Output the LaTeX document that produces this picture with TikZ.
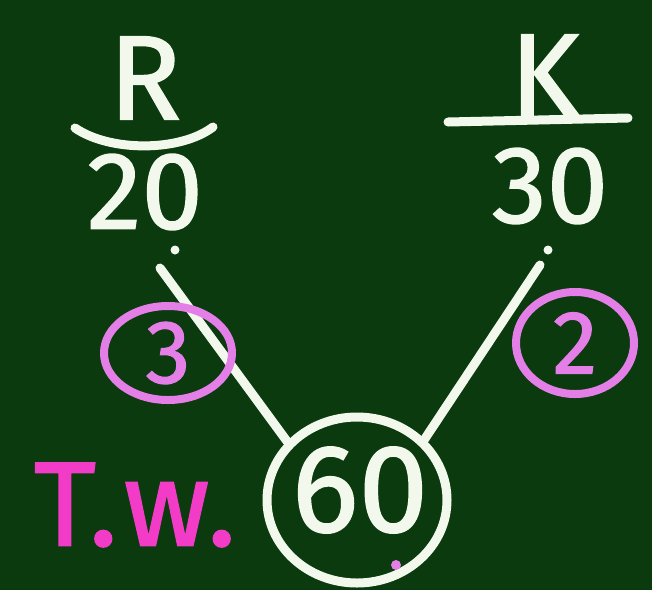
\documentclass[tikz,border=0pt]{standalone}
\usepackage{fontspec}
\setmainfont{Fira Sans}[FakeBold=1.3]
\usetikzlibrary{shapes.geometric}
\definecolor{board}{HTML}{0A3A0E}
\definecolor{chalk}{HTML}{F2F8EC}
\definecolor{lilac}{HTML}{E47FE8}
\definecolor{pinkchalk}{HTML}{F23CC8}
\tikzset{
  chalkline/.style={draw=chalk, line width=9pt, line cap=round},
  bigtext/.style={text=chalk, inner sep=0pt, font=\fontsize{110}{110}\selectfont},
  ring/.style={ellipse, draw=lilac, line width=8pt, inner sep=0pt, text=lilac,
    font=\fontsize{90}{90}\selectfont},
  chalkdot/.style={circle, fill=chalk, inner sep=0pt, minimum size=9pt},
}
\begin{document}
\begin{tikzpicture}[x=1pt,y=-1pt]
  % board
  \fill[board] (0,0) rectangle (652,590);
  \useasboundingbox (0,0) rectangle (652,590);
  % left fraction
  \node[bigtext, font=\fontsize{120}{120}\selectfont] (R) at (145,78) {R};
  \draw[chalkline] (75,128) .. controls (110,152) and (180,152) .. (213,127);
  \node[bigtext] (twenty) at (145,192) {20};
  \node[chalkdot] (dotR) at (175,250) {};
  % right fraction
  \node[bigtext, font=\fontsize{120}{120}\selectfont] (K) at (545,76) {K};
  \draw[chalkline] (448,122) -- (628,118);
  \node[bigtext] (thirty) at (550,186) {30};
  \node[chalkdot] (dotK) at (548,250) {};
  % total
  \node[ellipse, draw=chalk, line width=9pt, minimum width=180pt, minimum height=166pt,
    inner sep=0pt] (total) at (357,500) {};
  \node[bigtext, font=\fontsize{125}{125}\selectfont] (sixty) at (360,490) {60};
  \coordinate (legR) at (160,268);
  \coordinate (legK) at (540,265);
  \draw[chalkline] (legR) -- (total.140);
  \draw[chalkline] (legK) -- (total.42);
  % shares
  \node[ring, minimum width=128pt, minimum height=94pt] (shareR) at (168,353) {3};
  \node[ring, minimum width=118pt, minimum height=102pt] (shareK) at (575,343) {2};
  \node[circle, fill=lilac, inner sep=0pt, minimum size=10pt] (mark) at (396,565) {};
  \node[text=pinkchalk, inner sep=0pt, font=\fontsize{120}{120}\selectfont] (tw) at (135,505) {T.\kern6pt w.};
\end{tikzpicture}
\end{document}
